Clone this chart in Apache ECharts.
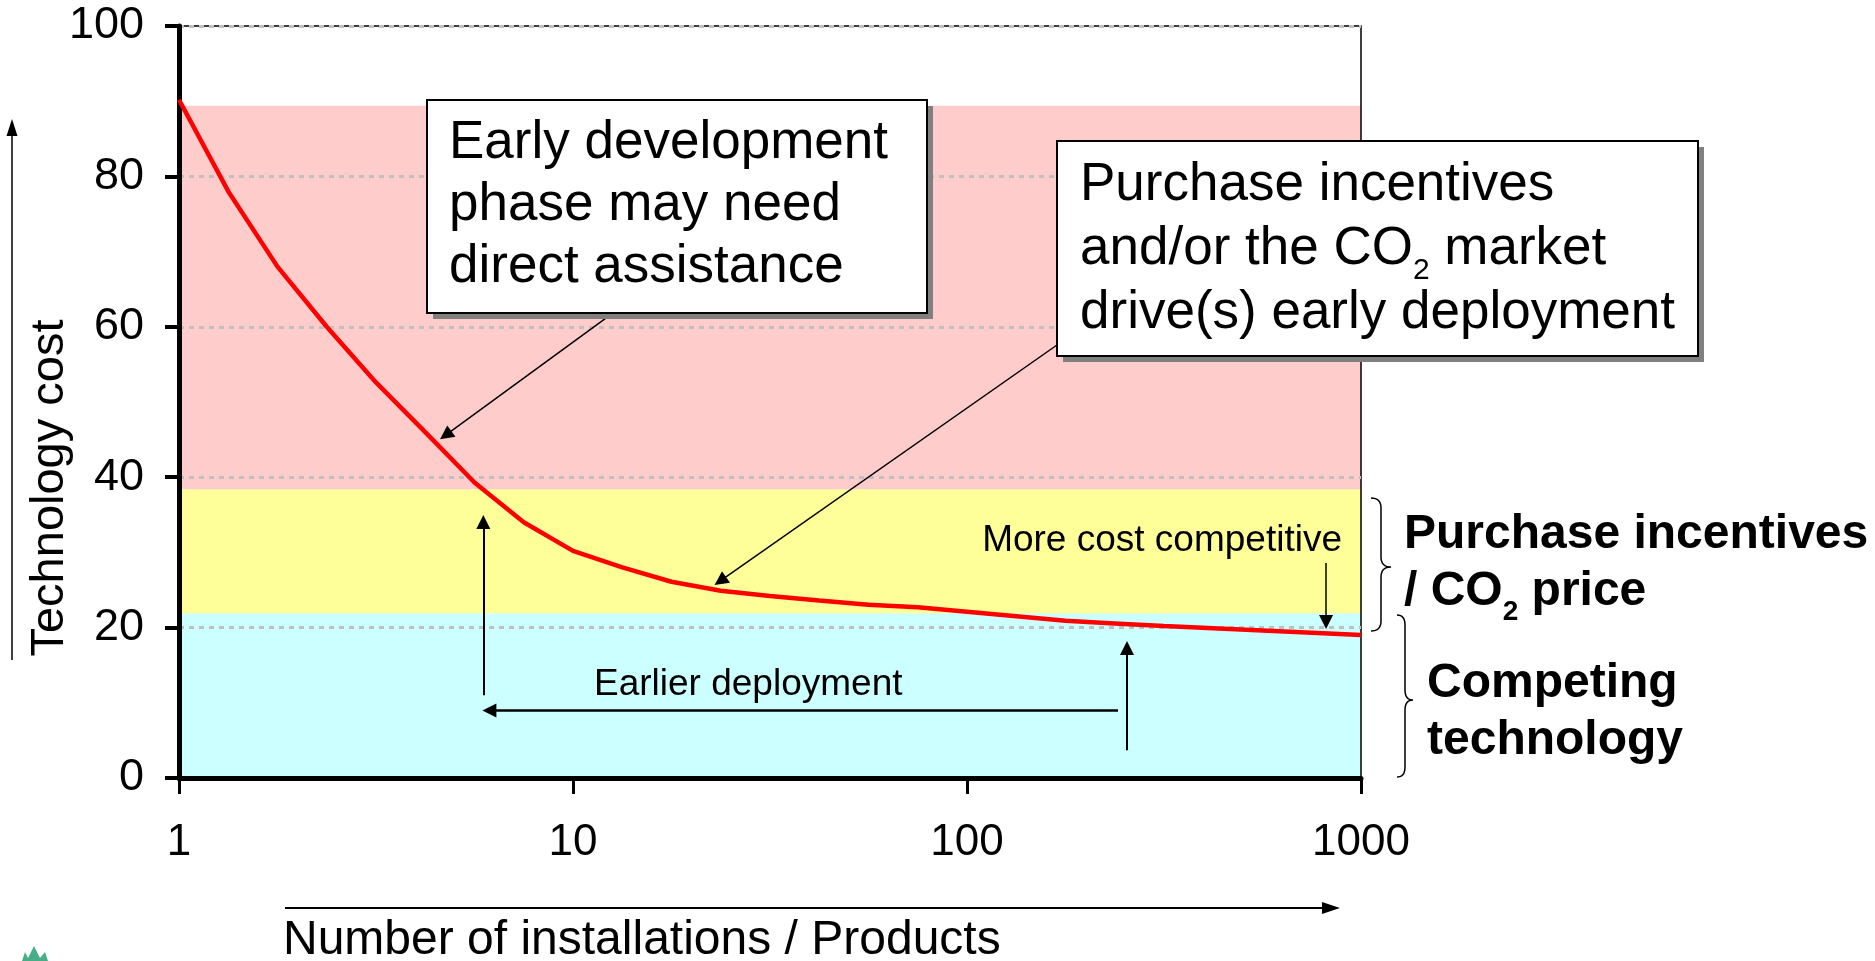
<!DOCTYPE html>
<html>
<head>
<meta charset="utf-8">
<title>Technology cost vs number of installations</title>
<script src="https://cdn.jsdelivr.net/npm/echarts@6.0.0/dist/echarts.min.js"></script>
<style>
    html, body { margin: 0; padding: 0; background: #fff; }
    #chart { width: 1875px; height: 961px; }
</style>
</head>
<body>
<div id="chart"></div>
<script>
// learning curve (x on a log scale)
const installations = [1, 1.334, 1.778, 2.371, 3.162, 4.217, 5.623, 7.499, 10, 13.34, 17.78, 23.71,
    31.62, 42.17, 56.23, 74.99, 100, 133.4, 177.8, 237.1, 316.2, 421.7, 562.3, 749.9, 1000];
const technologyCost = [90.2, 78.0, 68.0, 60.0, 52.6, 46.0, 39.3, 34.0, 30.2, 28.0, 26.1, 24.9,
    24.2, 23.6, 23.05, 22.7, 22.1, 21.5, 20.9, 20.55, 20.2, 19.9, 19.6, 19.3, 19.0];

// cost bands (bottom -> top)
const bandNames = ["Competing technology", "Purchase incentives / CO2 price", "Early development"];
const bandLimits = [0, 21.9, 38.4, 89.4];

// axis ticks
const installationTicks = [1, 10, 100, 1000];
const costTicks = [0, 20, 40, 60, 80, 100];

const FONT = '"Liberation Sans", Arial, sans-serif';
const bandColors = ["#ccffff", "#ffff99", "#ffcccc"];

const chart = echarts.init(document.getElementById("chart"));

// curly brace "}" as polyline points (quadratic corners)
const quad = (p0, c, p1, n, out) => {
    for (let i = 1; i <= n; i++) {
        const t = i / n, u = 1 - t;
        out.push([u * u * p0[0] + 2 * u * t * c[0] + t * t * p1[0], u * u * p0[1] + 2 * u * t * c[1] + t * t * p1[1]]);
    }
};
const brace = (x0, x1, yTop, yMid, yBot) => {
    const xm = (x0 + x1) / 2, r = 10, pts = [[x0, yTop]];
    quad([x0, yTop], [xm, yTop], [xm, yTop + r], 8, pts);
    pts.push([xm, yMid - r]);
    quad([xm, yMid - r], [xm, yMid], [x1, yMid], 8, pts);
    quad([x1, yMid], [xm, yMid], [xm, yMid + r], 8, pts);
    pts.push([xm, yBot - r]);
    quad([xm, yBot - r], [xm, yBot], [x0, yBot], 8, pts);
    return pts;
};

const textEl = (x, y, text, size, opts = {}) => ({
    type: "text",
    x, y, z: 101,
    rotation: opts.rotation || 0,
    style: {
        text,
        fontSize: size,
        fontFamily: FONT,
        fontWeight: opts.bold ? "bold" : "normal",
        fill: "#000",
        lineHeight: opts.lineHeight,
        align: opts.align || "left",
        textAlign: opts.align || "left",
        verticalAlign: opts.vAlign || "middle",
        textVerticalAlign: opts.vAlign || "middle",
        rich: opts.rich
    }
});

const subStyle = (size, pad, lh, bold) => ({
    sub: { fontSize: size, fontFamily: FONT, fontWeight: bold ? "bold" : "normal", padding: [pad, 0, 0, 0], lineHeight: lh, fill: "#000" }
});

// box with a hard grey drop shadow
const boxEls = (x, y, w, h) => [
    { type: "rect", z: 99, shape: { x: x + 6, y: y + 6, width: w, height: h }, style: { fill: "#808080" } },
    { type: "rect", z: 100, shape: { x, y, width: w, height: h }, style: { fill: "#fff", stroke: "#000", lineWidth: 2 } }
];

// arrow markLine item
const arrow = (from, to, width) => [
    { coord: from, symbol: "none", lineStyle: { width } },
    { coord: to, symbol: "triangle", symbolSize: 14 }
];

const option = {
    animation: false,
    grid: {
        left: 179, right: 514, top: 26, bottom: 183,
        show: true, borderColor: "#000", borderWidth: 1.5,
        backgroundColor: "transparent",
        outerBoundsMode: "none"
    },
    xAxis: {
        type: "log",
        logBase: 10,
        min: installationTicks[0],
        max: installationTicks[installationTicks.length - 1],
        splitNumber: installationTicks.length - 1,
        z: 4,
        axisLine: { lineStyle: { color: "#000", width: 5 } },
        axisTick: { length: 16, lineStyle: { color: "#000", width: 3 } },
        axisLabel: {
            margin: 43, fontSize: 44, color: "#000", fontFamily: FONT,
            formatter: (v) => String(Math.round(v))
        },
        splitLine: { show: false },
        minorTick: { show: false }
    },
    yAxis: {
        type: "value",
        min: costTicks[0],
        max: costTicks[costTicks.length - 1],
        interval: costTicks[1] - costTicks[0],
        axisLine: { show: true, lineStyle: { color: "#000", width: 5 } },
        axisTick: { show: true, length: 14, lineStyle: { color: "#000", width: 4 } },
        axisLabel: { margin: 35, fontSize: 45, color: "#000", fontFamily: FONT },
        splitLine: { show: true, lineStyle: { color: "#c0c0c0", type: [5, 5], width: 3 } }
    },
    series: [
        {
            name: "Technology cost",
            type: "line",
            data: installations.map((x, i) => [x, technologyCost[i]]),
            showSymbol: false,
            symbol: "none",
            lineStyle: { color: "#ff0000", width: 4.5 },
            itemStyle: { color: "#ff0000" },
            z: 3,
            markArea: {
                silent: true,
                z: -1,
                label: { show: false },
                data: bandNames.map((name, i) => [
                    { name, yAxis: bandLimits[i], itemStyle: { color: bandColors[i] } },
                    { yAxis: bandLimits[i + 1] }
                ])
            },
            markLine: {
                silent: true,
                z: 5,
                symbol: ["none", "triangle"],
                symbolSize: 14,
                label: { show: false },
                lineStyle: { color: "#000", type: "solid", width: 1.5 },
                emphasis: { disabled: true },
                data: [
                    arrow([12.64, 61.84], [4.752, 45.59], 1.5),   // from "Early development" box
                    arrow([169.2, 57.58], [23.65, 26.2], 1.5),    // from "Purchase incentives" box
                    arrow([5.92, 11.0], [5.92, 34.04], 2),        // cost goes up earlier
                    arrow([241.7, 8.98], [6.135, 8.98], 2.5),     // earlier deployment
                    arrow([254.7, 3.7], [254.7, 17.29], 2),
                    arrow([815.2, 28.59], [815.2, 20.74], 1.5)    // more cost competitive
                ]
            }
        }
    ],
    graphic: {
        elements: [
            ...boxEls(427, 100, 500, 213),
            textEl(449, 112, "Early development\nphase may need\ndirect assistance", 53, { vAlign: "top", lineHeight: 62 }),
            ...boxEls(1057, 141, 641, 215),
            textEl(1080, 153, "Purchase incentives\nand/or the CO{sub|2} market\ndrive(s) early deployment", 53,
                { vAlign: "top", lineHeight: 64, rich: subStyle(30, 44, 64, false) }),
            // in-plot labels
            textEl(1342, 541, "More cost competitive", 37, { align: "right" }),
            textEl(594, 685, "Earlier deployment", 37),
            // right side labels
            textEl(1404, 506, "Purchase incentives\n/ CO{sub|2} price", 48,
                { bold: true, vAlign: "top", lineHeight: 57, rich: subStyle(28, 42, 57, true) }),
            textEl(1427, 655, "Competing\ntechnology", 48, { bold: true, vAlign: "top", lineHeight: 57 }),
            {
                type: "polyline", z: 100,
                shape: { points: brace(1371, 1391, 498, 567, 631) },
                style: { fill: null, stroke: "#000", lineWidth: 1.5 }
            },
            {
                type: "polyline", z: 100,
                shape: { points: brace(1397, 1413, 615, 700, 777) },
                style: { fill: null, stroke: "#000", lineWidth: 1.5 }
            },
            // y title + arrow
            textEl(50, 488, "Technology cost", 47, { align: "center", rotation: Math.PI / 2 }),
            { type: "line", z: 100, shape: { x1: 12, y1: 660, x2: 12, y2: 130 }, style: { stroke: "#000", lineWidth: 1.5 } },
            { type: "polygon", z: 100, shape: { points: [[12, 119], [6.5, 136], [17.5, 136]] }, style: { fill: "#000" } },
            // x title + arrow
            textEl(283, 941, "Number of installations / Products", 48),
            { type: "line", z: 100, shape: { x1: 285, y1: 908, x2: 1325, y2: 908 }, style: { stroke: "#000", lineWidth: 2 } },
            { type: "polygon", z: 100, shape: { points: [[1340, 908], [1322, 902], [1322, 914]] }, style: { fill: "#000" } },
            // small logo in the corner (cut off)
            {
                type: "polygon", z: 100,
                shape: { points: [[22, 961], [25, 952], [28, 958], [34, 946], [40, 958], [45, 952], [48, 961]] },
                style: { fill: "#1a9a6a", opacity: 0.8 }
            }
        ]
    }
};

chart.setOption(option);
</script>
</body>
</html>
